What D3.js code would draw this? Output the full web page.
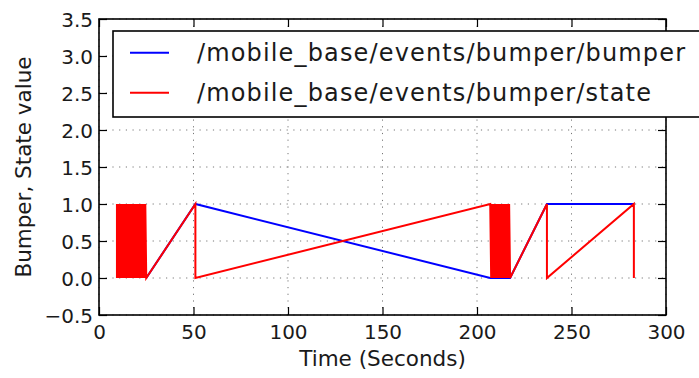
<!DOCTYPE html>
<html>
<head>
<meta charset="utf-8">
<script src="https://cdn.jsdelivr.net/npm/d3@7"></script>
<style>
  html, body { margin: 0; padding: 0; background: #fff; }
  svg { display: block; }
  text { font-family: "DejaVu Sans", sans-serif; fill: #1a1a1a; }
</style>
</head>
<body>
<svg id="chart" width="699" height="378"></svg>
<script>
// ---- data ----
const bumperTime  = [25, 51, 207, 217.5, 237, 283];
const bumperValue = [0, 1, 0, 0, 1, 1];

const stateTime = [
  9.5, 9.5, 10.0, 10.5, 11.0, 11.5, 12.0, 12.5, 13.0, 13.5, 14.0, 14.5, 15.0, 15.5,
  16.0, 16.5, 17.0, 17.5, 18.0, 18.5, 19.0, 19.5, 20.0, 20.5, 21.0, 21.5, 22.0,
  22.5, 23.0, 23.5, 24.0, 24.5, 25.0,
  51, 51,
  207.0, 207.5, 208.0, 208.5, 209.0, 209.5, 210.0, 210.5, 211.0, 211.5, 212.0,
  212.5, 213.0, 213.5, 214.0, 214.5, 215.0, 215.5, 216.0, 216.5, 217.0, 217.5,
  237, 237, 283, 283
];
const stateValue = [
  0, 1, 0, 1, 0, 1, 0, 1, 0, 1, 0, 1, 0, 1,
  0, 1, 0, 1, 0, 1, 0, 1, 0, 1, 0, 1, 0,
  1, 0, 1, 0, 1, 0,
  1, 0,
  1, 0, 1, 0, 1, 0, 1, 0, 1, 0, 1,
  0, 1, 0, 1, 0, 1, 0, 1, 0, 1, 0,
  1, 0, 1, 0
];

const xTicks = [0, 50, 100, 150, 200, 250, 300];
const yTicks = [-0.5, 0.0, 0.5, 1.0, 1.5, 2.0, 2.5, 3.0, 3.5];
const seriesNames = ["/mobile_base/events/bumper/bumper", "/mobile_base/events/bumper/state"];
const seriesColors = ["#0000ff", "#ff0000"];
const xLabel = "Time (Seconds)";
const yLabel = "Bumper, State value";

// ---- layout ----
const pLeft = 99, pRight = 666, pTop = 19, pBottom = 315;
const svg = d3.select("#chart");

const x = d3.scaleLinear().domain([0, 300]).range([pLeft, pRight]);
const y = d3.scaleLinear().domain([-0.5, 3.5]).range([pBottom, pTop]);

// grid
const grid = svg.append("g");
grid.selectAll("line.gx").data(xTicks).enter().append("line")
  .attr("x1", d => x(d)).attr("x2", d => x(d))
  .attr("y1", pTop).attr("y2", pBottom)
  .attr("stroke", "#777").attr("stroke-width", 1)
  .attr("stroke-dasharray", "1.2,5.5");
grid.selectAll("line.gy").data(yTicks).enter().append("line")
  .attr("y1", d => y(d)).attr("y2", d => y(d))
  .attr("x1", pLeft).attr("x2", pRight)
  .attr("stroke", "#777").attr("stroke-width", 1)
  .attr("stroke-dasharray", "1.2,5.5");

// data lines
const bumperData = bumperTime.map((t, i) => [t, bumperValue[i]]);
const stateData = stateTime.map((t, i) => [t, stateValue[i]]);
const line = d3.line().x(d => x(d[0])).y(d => y(d[1]));

svg.append("path").datum(bumperData)
  .attr("d", line).attr("fill", "none")
  .attr("stroke", seriesColors[0]).attr("stroke-width", 2)
  .attr("stroke-linejoin", "miter");
svg.append("path").datum(stateData)
  .attr("d", line).attr("fill", "none")
  .attr("stroke", seriesColors[1]).attr("stroke-width", 2)
  .attr("stroke-linejoin", "miter");

// axes with inward ticks on all sides
const tickLen = 8;
const axB = d3.axisBottom(x).tickValues(xTicks).tickSizeInner(-tickLen).tickSizeOuter(0)
  .tickPadding(14).tickFormat(d3.format("d"));
const axT = d3.axisTop(x).tickValues(xTicks).tickSizeInner(-tickLen).tickSizeOuter(0).tickFormat("");
const axL = d3.axisLeft(y).tickValues(yTicks).tickSizeInner(-tickLen).tickSizeOuter(0)
  .tickPadding(14).tickFormat(d => d < 0 ? "\u22120.5" : d3.format(".1f")(d));
const axR = d3.axisRight(y).tickValues(yTicks).tickSizeInner(-tickLen).tickSizeOuter(0).tickFormat("");

function styleAxis(g) {
  g.select(".domain").remove();
  g.selectAll(".tick line").attr("stroke", "#000").attr("stroke-width", 1.2);
  g.selectAll("text").style("font-family", "DejaVu Sans").style("font-size", "20px").attr("fill", "#1a1a1a");
}
svg.append("g").attr("transform", `translate(0,${pBottom})`).call(axB).call(styleAxis)
  .selectAll("text").attr("dy", "0.71em").attr("y", 10);
svg.append("g").attr("transform", `translate(0,${pTop})`).call(axT).call(styleAxis);
svg.append("g").attr("transform", `translate(${pLeft},0)`).call(axL).call(styleAxis)
  .selectAll("text").attr("x", -6).attr("dy", "0.36em");
svg.append("g").attr("transform", `translate(${pRight},0)`).call(axR).call(styleAxis);

// frame
svg.append("rect").attr("x", pLeft).attr("y", pTop)
  .attr("width", pRight - pLeft).attr("height", pBottom - pTop)
  .attr("fill", "none").attr("stroke", "#000").attr("stroke-width", 1.6);

// axis labels
svg.append("text").attr("x", (pLeft + pRight) / 2).attr("y", 366)
  .attr("text-anchor", "middle").style("font-size", "21.5px").text(xLabel);
svg.append("text").attr("transform", `translate(31,${(pTop + pBottom) / 2}) rotate(-90)`)
  .attr("text-anchor", "middle").style("font-size", "21.5px").text(yLabel);

// legend
const lg = svg.append("g");
lg.append("rect").attr("x", 113).attr("y", 31).attr("width", 620).attr("height", 86)
  .attr("fill", "#fff").attr("stroke", "#000").attr("stroke-width", 1.6);
const legY = [52.7, 92.7];
seriesNames.forEach((name, i) => {
  lg.append("line").attr("x1", 130).attr("x2", 169)
    .attr("y1", legY[i]).attr("y2", legY[i])
    .attr("stroke", seriesColors[i]).attr("stroke-width", 2);
  lg.append("text").attr("x", 197).attr("y", legY[i] + 8.5)
    .style("font-size", "24px").style("letter-spacing", "1.15px").text(name);
});
</script>
</body>
</html>
